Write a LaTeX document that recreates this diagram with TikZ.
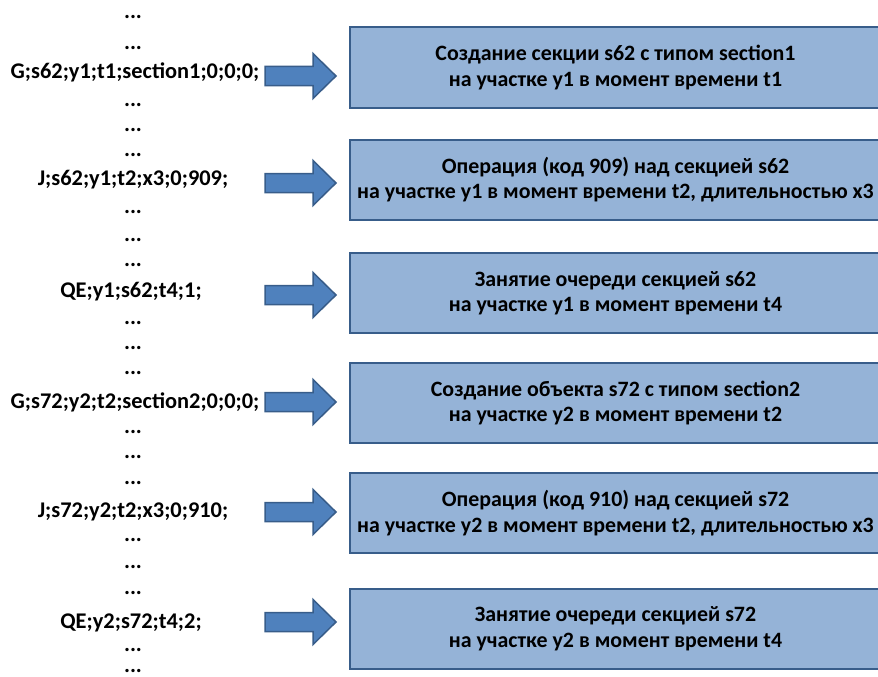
\documentclass[tikz,border=0pt]{standalone}
\usepackage{fontspec}
\setmainfont{Carlito}
\definecolor{boxfill}{HTML}{95B3D7}
\definecolor{boxline}{HTML}{385D8A}
\definecolor{arrfill}{HTML}{4F81BD}
\begin{document}
\begin{tikzpicture}[x=1pt,y=-1pt,
  codetxt/.style={font=\fontsize{22.4}{26}\selectfont\bfseries, inner sep=0pt, anchor=center},
  dotstxt/.style={font=\fontsize{22.4}{26}\selectfont\bfseries, inner sep=0pt, anchor=center},
  infobox/.style={draw=boxline, fill=boxfill, line width=2pt, minimum width=531pt, minimum height=80pt,
    align=center, anchor=west, inner sep=0pt, font=\fontsize{21.9}{25.5}\selectfont\bfseries},
  blockarrow/.style={draw=boxline, fill=arrfill, line width=1.5pt, line join=miter}]
\useasboundingbox (0,0) rectangle (878,677);
% dots
\foreach \yy [count=\i] in {17,48,105,130,155,212,240,265,323,348,373,432,457,483,540,567,593,650,671}
  \node[dotstxt] (d\i) at (133,\yy) {...};
% code lines
\node[codetxt] (c1) at (135,72) {G;s62;y1;t1;section1;0;0;0;};
\node[codetxt] (c2) at (133,180) {J;s62;y1;t2;x3;0;909;};
\node[codetxt] (c3) at (131,292) {QE;y1;s62;t4;1;};
\node[codetxt] (c4) at (135,402) {G;s72;y2;t2;section2;0;0;0;};
\node[codetxt] (c5) at (133,512) {J;s72;y2;t2;x3;0;910;};
\node[codetxt] (c6) at (131,623) {QE;y2;s72;t4;2;};
% boxes
\node[infobox] (b1) at (349,67.5) {Создание секции s62 с типом section1\\на участке y1 в момент времени t1};
\node[infobox] (b2) at (349,179.5) {Операция (код 909) над секцией s62\\на участке y1 в момент времени t2, длительностью x3};
\node[infobox] (b3) at (349,293) {Занятие очереди секцией s62\\на участке y1 в момент времени t4};
\node[infobox] (b4) at (349,403) {Создание объекта s72 с типом section2\\на участке y2 в момент времени t2};
\node[infobox] (b5) at (349,513) {Операция (код 910) над секцией s72\\на участке y2 в момент времени t2, длительностью x3};
\node[infobox] (b6) at (349,628.5) {Занятие очереди секцией s72\\на участке y2 в момент времени t4};
% block arrows
\foreach \yy [count=\i] in {76,183,295,402,512,622} {
  \coordinate (a\i) at (265,\yy);
  \draw[blockarrow] (a\i) ++(0,-9.5) -- ++(48,0) -- ++(0,-13) -- ++(23,22.5) -- ++(-23,22.5) -- ++(0,-13) -- ++(-48,0) -- cycle;
}
\end{tikzpicture}
\end{document}
